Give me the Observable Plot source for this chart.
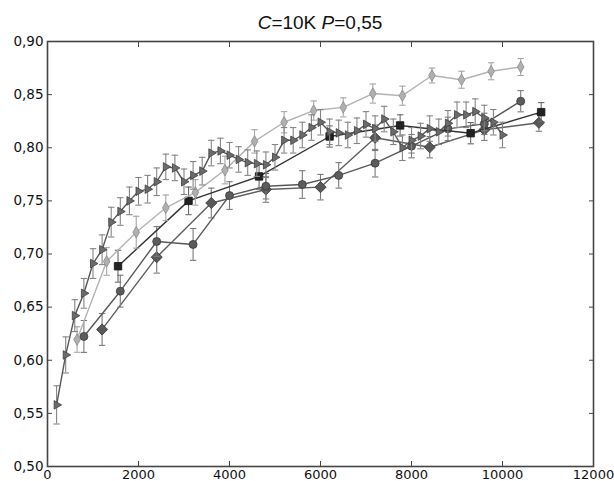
<!DOCTYPE html>
<html>
<head>
<meta charset="utf-8">
<script src="https://cdn.jsdelivr.net/npm/d3@7"></script>
<script src="https://cdn.jsdelivr.net/npm/@observablehq/plot@0.6"></script>
<style>
  html, body { margin: 0; padding: 0; background: #fff; }
  #title { width: 588px; padding-left: 26px; height: 22px; padding-top: 12px; line-height: 22px;
           text-align: center; font-family: "Liberation Sans", Arial, sans-serif; font-size: 19px; color: #111; }
</style>
</head>
<body>
<div id="title"><i>C</i>=10K <i>P</i>=0,55</div>
<div id="chart"></div>
<script>
// ---- data ----
const xTicks = [0, 2000, 4000, 6000, 8000, 10000, 12000];
const yTicks = [0.50, 0.55, 0.60, 0.65, 0.70, 0.75, 0.80, 0.85, 0.90];

// right-pointing triangles
const triX = [200, 400, 600, 800, 1000, 1200, 1400, 1600, 1800, 2000,
              2200, 2400, 2600, 2800, 3000, 3200, 3400, 3600, 3800, 4000,
              4200, 4400, 4600, 4800, 5000, 5200, 5400, 5600, 5800, 6000,
              6200, 6400, 6600, 6800, 7000, 7200, 7400, 7600, 7800, 8000,
              8200, 8400, 8600, 8800, 9000, 9200, 9400, 9600, 9800, 10000];
const triY = [0.558, 0.605, 0.642, 0.663, 0.691, 0.704, 0.730, 0.740, 0.750, 0.759,
              0.761, 0.768, 0.782, 0.781, 0.768, 0.774, 0.778, 0.795, 0.797, 0.793,
              0.789, 0.786, 0.785, 0.784, 0.791, 0.807, 0.807, 0.812, 0.819, 0.824,
              0.815, 0.814, 0.812, 0.816, 0.822, 0.818, 0.827, 0.815, 0.800, 0.807,
              0.811, 0.818, 0.815, 0.823, 0.831, 0.831, 0.834, 0.828, 0.824, 0.812];
const triE = [0.018, 0.017, 0.015, 0.014, 0.014, 0.014, 0.014, 0.013, 0.013, 0.013,
              0.013, 0.013, 0.012, 0.012, 0.012, 0.013, 0.013, 0.012, 0.012, 0.012,
              0.012, 0.012, 0.012, 0.012, 0.012, 0.012, 0.012, 0.012, 0.012, 0.012,
              0.012, 0.012, 0.012, 0.012, 0.012, 0.012, 0.012, 0.012, 0.012, 0.012,
              0.012, 0.012, 0.012, 0.012, 0.012, 0.012, 0.012, 0.012, 0.012, 0.012];

// thin light diamonds
const thinX = [650, 1300, 1950, 2600, 3250, 3900, 4550, 5200, 5850, 6500, 7150, 7800, 8450, 9100, 9750, 10400];
const thinY = [0.6195, 0.693, 0.7205, 0.7435, 0.758, 0.779, 0.806, 0.824, 0.835, 0.838, 0.851, 0.849, 0.868, 0.864, 0.872, 0.876];
const thinE = [0.012, 0.013, 0.015, 0.012, 0.012, 0.013, 0.011, 0.010, 0.009, 0.009, 0.009, 0.009, 0.007, 0.008, 0.008, 0.008];

// black squares
const sqX = [1550, 3100, 4650, 6200, 7750, 9300, 10850];
const sqY = [0.6885, 0.750, 0.773, 0.8106, 0.821, 0.8137, 0.8335];
const sqE = [0.015, 0.013, 0.012, 0.010, 0.010, 0.010, 0.009];

// circles
const cirX = [800, 1600, 2400, 3200, 4000, 4800, 5600, 6400, 7200, 8000, 8800, 9600, 10400];
const cirY = [0.6224, 0.665, 0.7118, 0.709, 0.755, 0.7638, 0.7654, 0.774, 0.7855, 0.8015, 0.8178, 0.8225, 0.8438];
const cirE = [0.015, 0.015, 0.014, 0.015, 0.013, 0.012, 0.013, 0.012, 0.013, 0.011, 0.011, 0.010, 0.010];

// large diamonds
const bigX = [1200, 2400, 3600, 4800, 6000, 7200, 8400, 9600, 10800];
const bigY = [0.629, 0.697, 0.748, 0.7607, 0.7629, 0.8094, 0.8005, 0.8169, 0.8235];
const bigE = [0.015, 0.015, 0.014, 0.012, 0.012, 0.012, 0.010, 0.010, 0.008];

// ---- styles ----
const capSymbol = { draw(ctx, size) { ctx.moveTo(-3.2, 0); ctx.lineTo(3.2, 0); } };

const series = [
  { x: bigX, y: bigY, e: bigE, symbol: "diamond2", r: 5.0, fill: "#595959", stroke: "#333", line: "#5e5e5e", err: "#7a7a7a", rotate: 0 },
  { x: cirX, y: cirY, e: cirE, symbol: "circle", r: 4.0, fill: "#5c5c5c", stroke: "#3a3a3a", line: "#585858", err: "#7a7a7a", rotate: 0 },
  { x: sqX, y: sqY, e: sqE, symbol: "square", r: 4.2, fill: "#222", stroke: "#111", line: "#333", err: "#6a6a6a", rotate: 0 },
  { x: thinX, y: thinY, e: thinE, symbol: "diamond", r: 3.5, fill: "#b0b0b0", stroke: "#8a8a8a", line: "#b3b3b3", err: "#a6a6a6", rotate: 0 },
  { x: triX, y: triY, e: triE, symbol: "triangle", r: 3.2, fill: "#6b6b6b", stroke: "#3f3f3f", line: "#585858", err: "#858585", rotate: 90 }
];

const marks = [];
for (const s of series) {
  const t = s.x.map((x, i) => ({ x, y: s.y[i], lo: s.y[i] - s.e[i], hi: s.y[i] + s.e[i] }));
  marks.push(Plot.ruleX(t, { x: "x", y1: "lo", y2: "hi", stroke: s.err, strokeWidth: 1.1 }));
  marks.push(Plot.dot(t, { x: "x", y: "lo", symbol: capSymbol, r: 3, stroke: s.err, fill: "none", strokeWidth: 1.1 }));
  marks.push(Plot.dot(t, { x: "x", y: "hi", symbol: capSymbol, r: 3, stroke: s.err, fill: "none", strokeWidth: 1.1 }));
  marks.push(Plot.line(t, { x: "x", y: "y", stroke: s.line, strokeWidth: 1.4 }));
  marks.push(Plot.dot(t, { x: "x", y: "y", symbol: s.symbol, r: s.r, fill: s.fill, stroke: s.stroke, strokeWidth: 0.8, rotate: s.rotate }));
}

const yFmt = d => d3.format(".2f")(d).replace(".", ",");
const blank = () => "";

const chart = Plot.plot({
  width: 614,
  height: 447,
  marginLeft: 47,
  marginRight: 21,
  marginTop: 7,
  marginBottom: 15,
  x: { domain: [0, 12000], label: null },
  y: { domain: [0.5, 0.9], label: null },
  style: { fontFamily: "'DejaVu Sans', sans-serif", fontSize: "13px", background: "#fff", color: "#111", overflow: "visible" },
  marks: [
    ...marks,
    Plot.frame({ stroke: "#444", strokeWidth: 1.6 }),
    Plot.axisX({ anchor: "bottom", ticks: xTicks, tickSize: -5, tickFormat: blank, stroke: "#444", label: null }),
    Plot.axisX({ anchor: "top", ticks: xTicks, tickSize: -5, tickFormat: blank, stroke: "#444", label: null }),
    Plot.axisY({ anchor: "left", ticks: yTicks, tickSize: -5, tickFormat: blank, stroke: "#444", label: null }),
    Plot.axisY({ anchor: "right", ticks: yTicks, tickSize: -5, tickFormat: blank, stroke: "#444", label: null }),
    Plot.axisX({ anchor: "bottom", ticks: xTicks, tickSize: 0, tickPadding: 3, tickFormat: d => String(d), fontSize: 13, fill: "#111", label: null }),
    Plot.axisY({ anchor: "left", ticks: yTicks, tickSize: 0, tickPadding: 4, tickFormat: yFmt, fontSize: 13.5, fill: "#111", label: null })
  ]
});
document.getElementById("chart").appendChild(chart);
</script>
</body>
</html>
